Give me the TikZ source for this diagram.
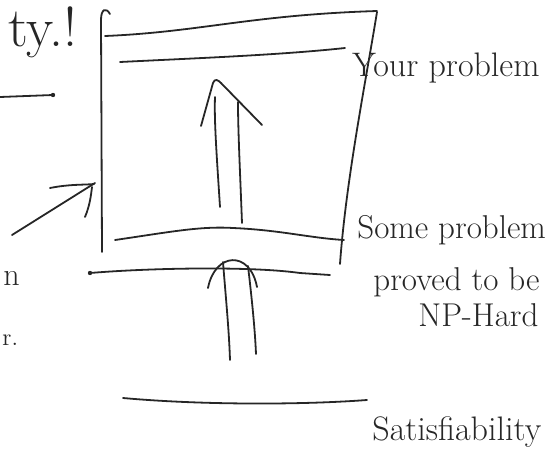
\documentclass[tikz,border=0pt]{standalone}
\usepackage{tikz}
\tikzset{pen/.style={line width=0.9pt, line cap=round, black!85},
  note/.style={anchor=base west, inner sep=0pt, black!85}}
\begin{document}
\begin{tikzpicture}[x=0.5pt,y=-0.5pt]
\useasboundingbox (0,0) rectangle (548,456);
% box around our problem
\draw[pen] (110,14) .. controls (106,7) and (101,9) .. (101,20) -- (102,252);
\draw[pen] (105,36) .. controls (200,32) and (250,15) .. (377,11);
\draw[pen] (377,12) .. controls (366,80) and (346,180) .. (340,264);
\draw[pen] (115,240) .. controls (170,232) and (200,226) .. (233,228) .. controls (280,230) and (310,238) .. (344,240);
% our problem line
\draw[pen] (120,62) .. controls (200,58) and (280,55) .. (345,48);
% reduction arrow inside
\draw[pen] (220,207) .. controls (217,160) and (214,120) .. (215,97);
\draw[pen] (242,223) .. controls (240,170) and (238,130) .. (238,102);
\draw[pen] (201,126) -- (213,83) .. controls (215,78) and (218,80) .. (221,83) -- (262,125);
% line below the box
\draw[pen] (90,273) .. controls (150,268) and (250,266) .. (300,273) -- (330,275);
\fill[black!85] (90,273) circle (2.2);
% reduction arrow below
\draw[pen] (223,262) .. controls (226,300) and (229,330) .. (230,360);
\draw[pen] (248,266) .. controls (252,300) and (255,330) .. (256,354);
\draw[pen] (208,288) .. controls (215,252) and (250,250) .. (257,287);
% satisfiability line
\draw[pen] (123,398) .. controls (200,405) and (300,405) .. (367,400);
% left side
\draw[pen] (0,97) -- (53,95);
\fill[black!85] (53,95) circle (2.2);
\draw[pen] (12,235) -- (95,183);
\draw[pen] (50,188) .. controls (70,184) and (85,185) .. (94,184);
\draw[pen] (85,217) .. controls (90,205) and (91,195) .. (92,187);
% labels
\node[note, font=\fontsize{28}{30}\selectfont] (tyl) at (8,46) {ty.!};
\node[note, font=\fontsize{17}{19}\selectfont] (yourl) at (352,76) {Your problem};
\node[note, font=\fontsize{16.5}{18}\selectfont] (somel) at (357,238) {Some problem};
\node[note, font=\fontsize{16.5}{18}\selectfont] (provl) at (373,290) {proved to be};
\node[note, font=\fontsize{16.5}{18}\selectfont] (nphl) at (418,326) {NP-Hard};
\node[note, font=\fontsize{17}{19}\selectfont] (satl) at (372,440) {Satisfiability};
\node[note, font=\fontsize{16}{18}\selectfont] (nl) at (3,285) {n};
\node[note, font=\fontsize{12}{14}\selectfont] (rl) at (2,345) {r.};
\end{tikzpicture}
\end{document}
